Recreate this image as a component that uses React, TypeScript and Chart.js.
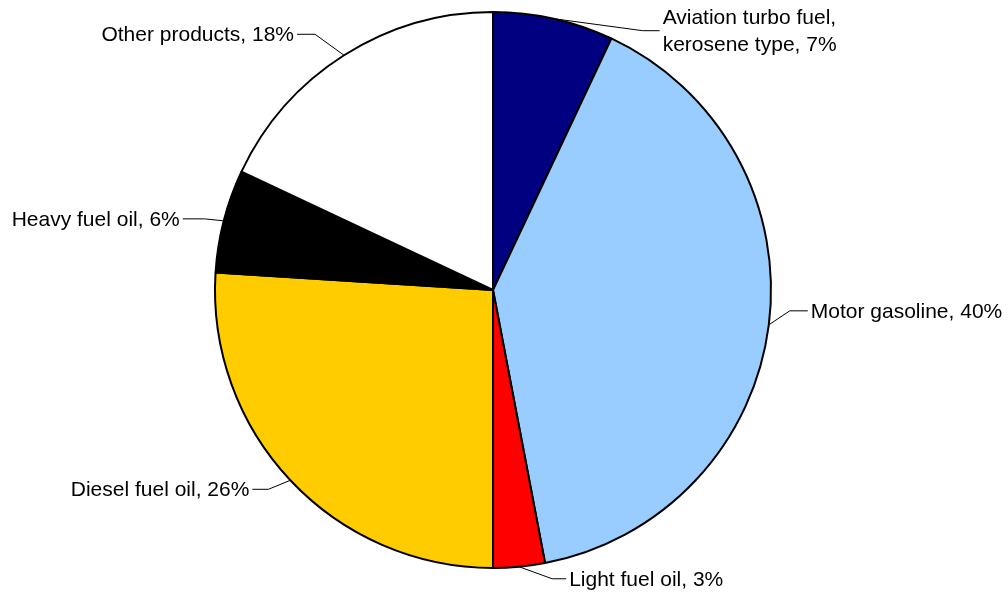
import React, { useEffect, useRef } from "react";
import { Chart, registerables } from "chart.js";

Chart.register(...registerables);

const categories = [
  "Aviation turbo fuel, kerosene type",
  "Motor gasoline",
  "Light fuel oil",
  "Diesel fuel oil",
  "Heavy fuel oil",
  "Other products",
];
const shares = [7, 40, 3, 26, 6, 18];
const labelLines = [
  ["Aviation turbo fuel,", "kerosene type, 7%"],
  ["Motor gasoline, 40%"],
  ["Light fuel oil, 3%"],
  ["Diesel fuel oil, 26%"],
  ["Heavy fuel oil, 6%"],
  ["Other products, 18%"],
];
const colors = ["#000080", "#99CCFF", "#FF0000", "#FFCC00", "#000000", "#FFFFFF"];

// leader layout: elbow offset from arc edge midpoint, horizontal run length (sign = side)
const leaderLayout = [
  { dx: 89, dy: 12, run: 17 },
  { dx: 21, dy: -14, run: 18 },
  { dx: 33, dy: 12, run: 14 },
  { dx: -22, dy: 9, run: -16 },
  { dx: -19, dy: -2, run: -22 },
  { dx: -29, dy: -21, run: -18 },
];

const FONT = '21px "Liberation Sans", Arial, sans-serif';

const labelPlugin = {
  id: "pieLabels",
  afterDatasetsDraw(chart: any) {
    const ctx = chart.ctx;
    const meta = chart.getDatasetMeta(0);
    ctx.save();
    ctx.font = FONT;
    ctx.fillStyle = "#000";
    ctx.strokeStyle = "#000";
    ctx.lineWidth = 1;
    meta.data.forEach((arc: any, i: number) => {
      const p = arc.getProps(["x", "y", "startAngle", "endAngle", "outerRadius"], true);
      const mid = (p.startAngle + p.endAngle) / 2;
      const sx = p.x + Math.cos(mid) * p.outerRadius;
      const sy = p.y + Math.sin(mid) * p.outerRadius;
      const L = leaderLayout[i];
      const ex = sx + L.dx;
      const ey = sy + L.dy;
      const hx = ex + L.run;
      ctx.beginPath();
      ctx.moveTo(sx, sy);
      ctx.lineTo(ex, ey);
      ctx.lineTo(hx, ey);
      ctx.stroke();
      const lines = labelLines[i];
      const right = L.run > 0;
      ctx.textAlign = right ? "left" : "right";
      ctx.textBaseline = "alphabetic";
      const tx = hx + (right ? 3 : -3);
      const lh = 27;
      const base = ey + 7 - ((lines.length - 1) * lh) / 2;
      lines.forEach((t, k) => ctx.fillText(t, tx, base + k * lh));
    });
    ctx.restore();
  },
};

export default function App() {
  const ref = useRef<HTMLCanvasElement>(null);
  useEffect(() => {
    const chart = new Chart(ref.current!, {
      type: "pie",
      data: {
        labels: categories,
        datasets: [
          {
            data: shares,
            backgroundColor: colors,
            borderColor: "#000000",
            borderWidth: 2,
          },
        ],
      },
      options: {
        responsive: false,
        animation: false,
        radius: 278,
        layout: { padding: { left: 0, right: 22, top: 0, bottom: 15 } },
        plugins: {
          legend: { display: false },
          tooltip: { enabled: false },
        },
      } as any,
      plugins: [labelPlugin],
    });
    return () => chart.destroy();
  }, []);
  return (
    <div style={{ position: "absolute", left: 0, top: 0, width: 1008, height: 595, background: "#fff" }}>
      <canvas ref={ref} width={1008} height={595} />
    </div>
  );
}
